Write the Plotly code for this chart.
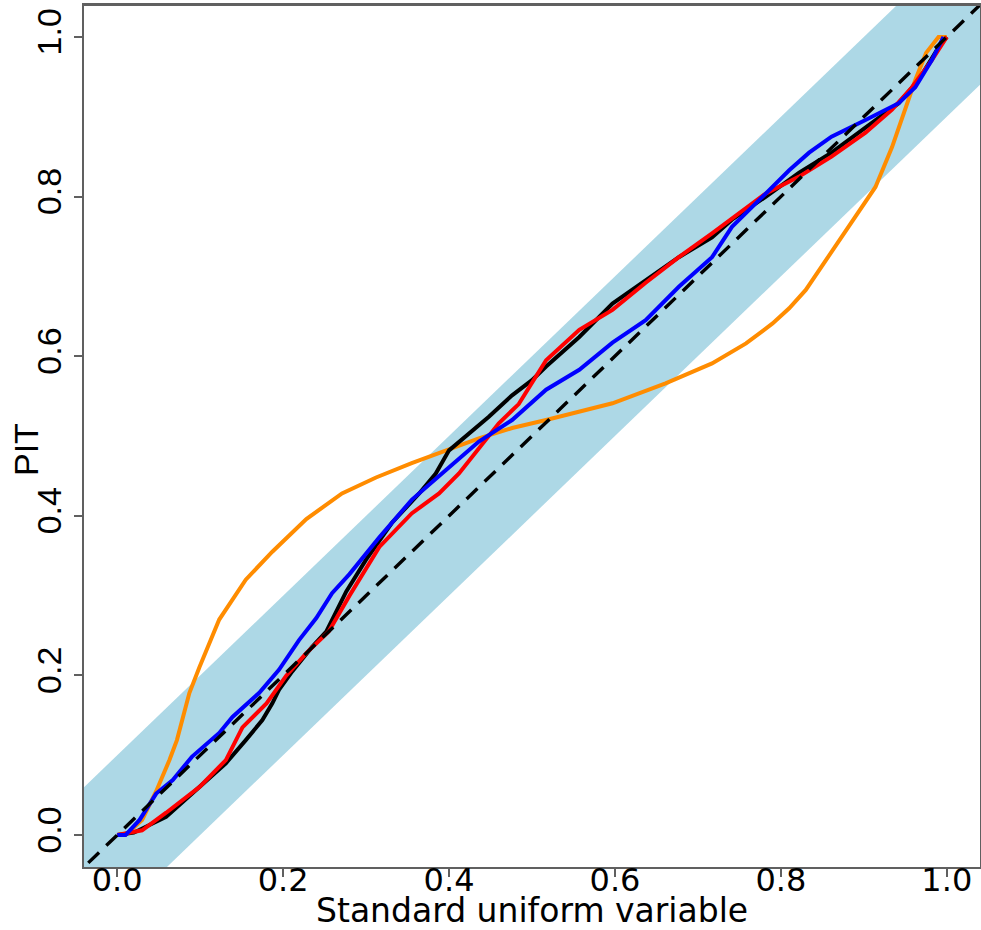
import plotly.graph_objects as go

# ---- data ----
tick_vals = [0.0, 0.2, 0.4, 0.6, 0.8, 1.0]
tick_text = ["0.0", "0.2", "0.4", "0.6", "0.8", "1.0"]

x_title = "Standard uniform variable"
y_title = "PIT"

band_halfwidth = 0.1
band_x = [-0.3, 1.3]

black_x = [0.0, 0.02, 0.059, 0.099, 0.131, 0.155, 0.175, 0.187, 0.195, 0.211, 0.235, 0.252, 0.276, 0.3,
           0.331, 0.364, 0.384, 0.4, 0.42, 0.448, 0.476, 0.5, 0.517, 0.557, 0.597, 0.637, 0.677, 0.717,
           0.741, 0.782, 0.822, 0.861, 0.902, 0.942, 0.966, 0.99, 1.0]
black_y = [0.0, 0.003, 0.023, 0.06, 0.09, 0.119, 0.144, 0.165, 0.182, 0.205, 0.236, 0.255, 0.305, 0.345,
           0.391, 0.428, 0.453, 0.482, 0.499, 0.524, 0.551, 0.57, 0.587, 0.624, 0.666, 0.695, 0.724, 0.749,
           0.771, 0.8, 0.83, 0.855, 0.887, 0.917, 0.946, 0.987, 1.0]

red_x = [0.0, 0.03, 0.059, 0.099, 0.131, 0.151, 0.18, 0.204, 0.228, 0.255, 0.28, 0.316, 0.355, 0.388,
         0.412, 0.436, 0.46, 0.484, 0.517, 0.557, 0.597, 0.637, 0.677, 0.717, 0.741, 0.782, 0.822, 0.861,
         0.902, 0.934, 0.958, 0.982, 1.0]
red_y = [0.0, 0.006, 0.028, 0.06, 0.094, 0.135, 0.165, 0.2, 0.228, 0.255, 0.3, 0.361, 0.403, 0.428,
         0.453, 0.484, 0.516, 0.54, 0.595, 0.633, 0.658, 0.692, 0.724, 0.754, 0.773, 0.804, 0.825, 0.85,
         0.88, 0.909, 0.937, 0.971, 1.0]

blue_x = [0.0, 0.01, 0.027, 0.047, 0.067, 0.09, 0.123, 0.139, 0.171, 0.195, 0.219, 0.24, 0.259, 0.28,
          0.316, 0.355, 0.396, 0.436, 0.476, 0.517, 0.557, 0.597, 0.637, 0.677, 0.717, 0.741, 0.782, 0.81,
          0.834, 0.861, 0.902, 0.942, 0.962, 0.982, 0.996]
blue_y = [0.0, 0.0, 0.019, 0.052, 0.069, 0.098, 0.128, 0.148, 0.178, 0.207, 0.244, 0.272, 0.303, 0.327,
          0.373, 0.42, 0.457, 0.493, 0.52, 0.558, 0.583, 0.617, 0.645, 0.687, 0.724, 0.762, 0.804, 0.833,
          0.855, 0.875, 0.896, 0.917, 0.937, 0.971, 1.0]

orange_x = [0.0, 0.01, 0.03, 0.047, 0.063, 0.072, 0.087, 0.099, 0.123, 0.155, 0.187, 0.228, 0.271, 0.312,
            0.355, 0.396, 0.436, 0.476, 0.517, 0.597, 0.661, 0.717, 0.758, 0.79, 0.81, 0.83, 0.849, 0.882,
            0.914, 0.934, 0.95, 0.962, 0.975, 0.99, 1.0]
orange_y = [0.0, 0.0, 0.019, 0.055, 0.094, 0.119, 0.178, 0.21, 0.27, 0.32, 0.355, 0.396, 0.428, 0.448,
            0.466, 0.482, 0.497, 0.51, 0.52, 0.541, 0.566, 0.591, 0.616, 0.641, 0.66, 0.683, 0.712, 0.762,
            0.812, 0.862, 0.912, 0.946, 0.98, 1.0, 1.0]

diag = [-0.1, 1.1]

FONT_X = "DejaVu Sans, Liberation Sans, Arial, sans-serif"
FONT_Y = "Liberation Sans, Arial, Helvetica, sans-serif"
AXIS_COLOR = "#606060"

fig = go.Figure()

# confidence band around the diagonal
bx = [band_x[0], band_x[1], band_x[1], band_x[0], band_x[0]]
by = [band_x[0] + band_halfwidth, band_x[1] + band_halfwidth,
      band_x[1] - band_halfwidth, band_x[0] - band_halfwidth, band_x[0] + band_halfwidth]
fig.add_trace(go.Scatter(x=bx, y=by, mode="lines", fill="toself",
                         fillcolor="#ADD8E6", line=dict(width=0), hoverinfo="skip"))

series = [
    (orange_x, orange_y, "#FF8C00"),
    (black_x, black_y, "#000000"),
    (red_x, red_y, "#FF0000"),
    (blue_x, blue_y, "#0000FF"),
]
for xs, ys, col in series:
    fig.add_trace(go.Scatter(x=xs, y=ys, mode="lines",
                             line=dict(color=col, width=4)))

fig.add_trace(go.Scatter(x=diag, y=diag, mode="lines",
                         line=dict(color="#000000", width=3.4, dash="15px,10px")))

axis_common = dict(
    range=[-0.04, 1.04], tickmode="array", tickvals=tick_vals, ticktext=tick_text,
    showgrid=False, zeroline=False, showline=True, mirror=True,
    linecolor=AXIS_COLOR, linewidth=2, ticks="outside", ticklen=8, tickwidth=2,
    tickcolor=AXIS_COLOR, layer="below traces", automargin=False,
)

fig.update_layout(
    width=981, height=930,
    margin=dict(l=84, r=1, t=5, b=63),
    paper_bgcolor="white", plot_bgcolor="white",
    showlegend=False,
    xaxis=dict(**axis_common, tickfont=dict(family=FONT_X, size=32, color="#000000"),
               ticklabelstandoff=-24),
    yaxis=dict(**axis_common, tickangle=-90,
               tickfont=dict(family=FONT_Y, size=34, color="#000000"),
               ticklabelstandoff=-1),
)

# axis titles
fig.add_annotation(text=x_title, xref="paper", yref="paper", x=0.5, y=(867 - 910) / 862,
                   xanchor="center", yanchor="middle", showarrow=False,
                   font=dict(family=FONT_X, size=33, color="#000000"))
fig.add_annotation(text=y_title, xref="paper", yref="paper", x=(26 - 84) / 896, y=(867 - 449) / 862,
                   xanchor="center", yanchor="middle", showarrow=False, textangle=-90,
                   font=dict(family=FONT_Y, size=34, color="#000000"))

# top border of the plot box drawn above the band (as in the reference)
fig.add_shape(type="line", xref="paper", yref="paper", x0=0, x1=1, y0=1, y1=1,
              line=dict(color=AXIS_COLOR, width=2), layer="above")

fig.write_html("out.html")
